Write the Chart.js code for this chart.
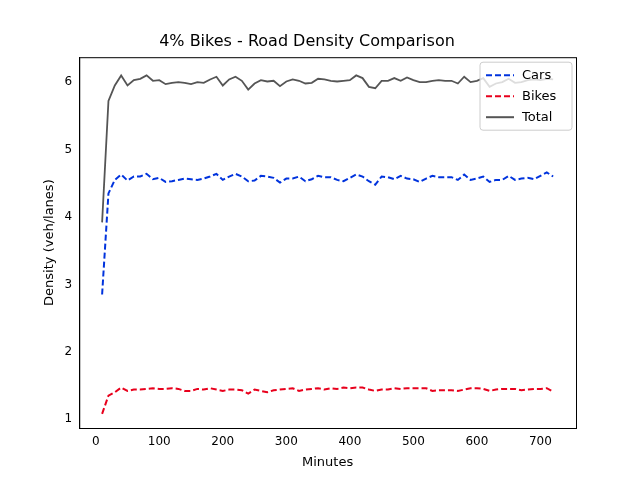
<!DOCTYPE html>
<html><head><meta charset="utf-8">
<script src="https://cdn.jsdelivr.net/npm/chart.js@4"></script>
<style>body{margin:0;background:#fff}#wrap{width:640px;height:480px}</style>
</head><body><div id="wrap"><canvas id="c" width="640" height="480"></canvas></div>
<script>
// minutes, one point every 10 min
const minutes = [];
for (let m = 10; m <= 720; m += 10) minutes.push(m);
const cars = [2.85,4.35,4.55,4.63,4.54,4.6,4.6,4.64,4.56,4.58,4.52,4.53,4.55,4.57,4.56,4.55,4.57,4.6,4.64,4.55,4.6,4.64,4.6,4.53,4.54,4.61,4.6,4.58,4.51,4.57,4.57,4.6,4.53,4.56,4.61,4.59,4.59,4.55,4.53,4.58,4.63,4.6,4.53,4.48,4.6,4.59,4.56,4.61,4.57,4.56,4.52,4.57,4.61,4.59,4.59,4.59,4.55,4.63,4.55,4.57,4.6,4.52,4.55,4.55,4.61,4.55,4.57,4.58,4.56,4.61,4.66,4.6];
const bikes = [1.08,1.35,1.4,1.47,1.42,1.44,1.44,1.45,1.46,1.45,1.45,1.46,1.45,1.42,1.42,1.45,1.44,1.46,1.44,1.42,1.44,1.44,1.43,1.38,1.44,1.42,1.4,1.43,1.44,1.45,1.46,1.42,1.44,1.45,1.46,1.44,1.46,1.45,1.47,1.46,1.47,1.47,1.44,1.42,1.44,1.44,1.46,1.45,1.46,1.46,1.46,1.46,1.42,1.43,1.43,1.43,1.42,1.44,1.46,1.46,1.45,1.42,1.44,1.45,1.45,1.45,1.43,1.44,1.45,1.45,1.46,1.41];
const total = [3.92,5.72,5.95,6.1,5.95,6.03,6.05,6.1,6.02,6.03,5.97,5.99,6.0,5.99,5.97,6.0,5.99,6.04,6.08,5.95,6.04,6.08,6.02,5.89,5.98,6.03,6.01,6.02,5.94,6.01,6.04,6.02,5.98,5.99,6.05,6.04,6.02,6.01,6.02,6.03,6.1,6.06,5.93,5.91,6.02,6.02,6.06,6.02,6.07,6.03,6.0,6.0,6.02,6.03,6.02,6.02,5.98,6.08,6.0,6.02,6.06,5.93,5.98,6.0,6.05,5.99,6.0,6.03,6.04,6.03,6.05,6.04];
const xTicks = [0,100,200,300,400,500,600,700];
const yTicks = [1,2,3,4,5,6];

const pts = (arr) => arr.map((v, i) => ({ x: minutes[i], y: v }));
const font = "'DejaVu Sans', sans-serif";
Chart.defaults.font.family = font;
Chart.defaults.color = '#000';

// full frame round the plot + legend box in the upper right, matplotlib style
const insideLegend = {
    id: 'insideLegend',
    afterDraw(chart) {
        const ctx = chart.ctx, a = chart.chartArea;
        ctx.save();
        ctx.strokeStyle = '#000'; ctx.lineWidth = 1;
        ctx.strokeRect(a.left + 0.5, a.top + 0.5, a.right - a.left, a.bottom - a.top);
        const w = 92, h = 68, x = a.right - w - 4, y = a.top + 5;
        ctx.fillStyle = 'rgba(255,255,255,0.8)';
        ctx.strokeStyle = '#ccc';
        ctx.beginPath(); ctx.roundRect(x, y, w, h, 3); ctx.fill(); ctx.stroke();
        ctx.font = '13px ' + font;
        ctx.textBaseline = 'middle';
        chart.data.datasets.forEach((ds, i) => {
            const ly = y + 13 + i * 21;
            ctx.strokeStyle = ds.borderColor; ctx.lineWidth = 2;
            ctx.setLineDash(ds.borderDash || []);
            ctx.beginPath(); ctx.moveTo(x + 6, ly); ctx.lineTo(x + 34, ly); ctx.stroke();
            ctx.setLineDash([]);
            ctx.fillStyle = '#000';
            ctx.fillText(ds.label, x + 42, ly);
        });
        ctx.restore();
    }
};

new Chart(document.getElementById('c'), {
    type: 'line',
    data: {
        datasets: [
            { label: 'Cars', data: pts(cars), borderColor: '#0033dd', borderDash: [6, 3], borderWidth: 2, pointRadius: 0 },
            { label: 'Bikes', data: pts(bikes), borderColor: '#e8001c', borderDash: [6, 3], borderWidth: 2, pointRadius: 0 },
            { label: 'Total', data: pts(total), borderColor: '#555555', borderWidth: 1.8, pointRadius: 0 }
        ]
    },
    options: {
        responsive: false, animation: false,
        layout: { padding: { left: 38, right: 64, top: 4, bottom: 6 } },
        plugins: {
            legend: { display: false },
            title: { display: true, text: '4% Bikes - Road Density Comparison', font: { size: 16, weight: 'normal' }, padding: { top: 28, bottom: 6 } },
            tooltip: { enabled: false }
        },
        scales: {
            x: {
                type: 'linear', min: -26, max: 756,
                afterBuildTicks: (ax) => { ax.ticks = xTicks.map(v => ({ value: v })); },
                grid: { display: false, drawTicks: true, tickLength: 4 },
                border: { color: '#000' },
                ticks: { font: { size: 12 } },
                title: { display: true, text: 'Minutes', font: { size: 13 }, padding: { top: 2 } }
            },
            y: {
                min: 0.87, max: 6.37,
                afterBuildTicks: (ax) => { ax.ticks = yTicks.map(v => ({ value: v })); },
                grid: { display: false, drawTicks: true, tickLength: 4 },
                border: { color: '#000' },
                ticks: { font: { size: 12 } },
                title: { display: true, text: 'Density (veh/lanes)', font: { size: 13 } }
            }
        }
    },
    plugins: [insideLegend]
});
</script></body></html>
